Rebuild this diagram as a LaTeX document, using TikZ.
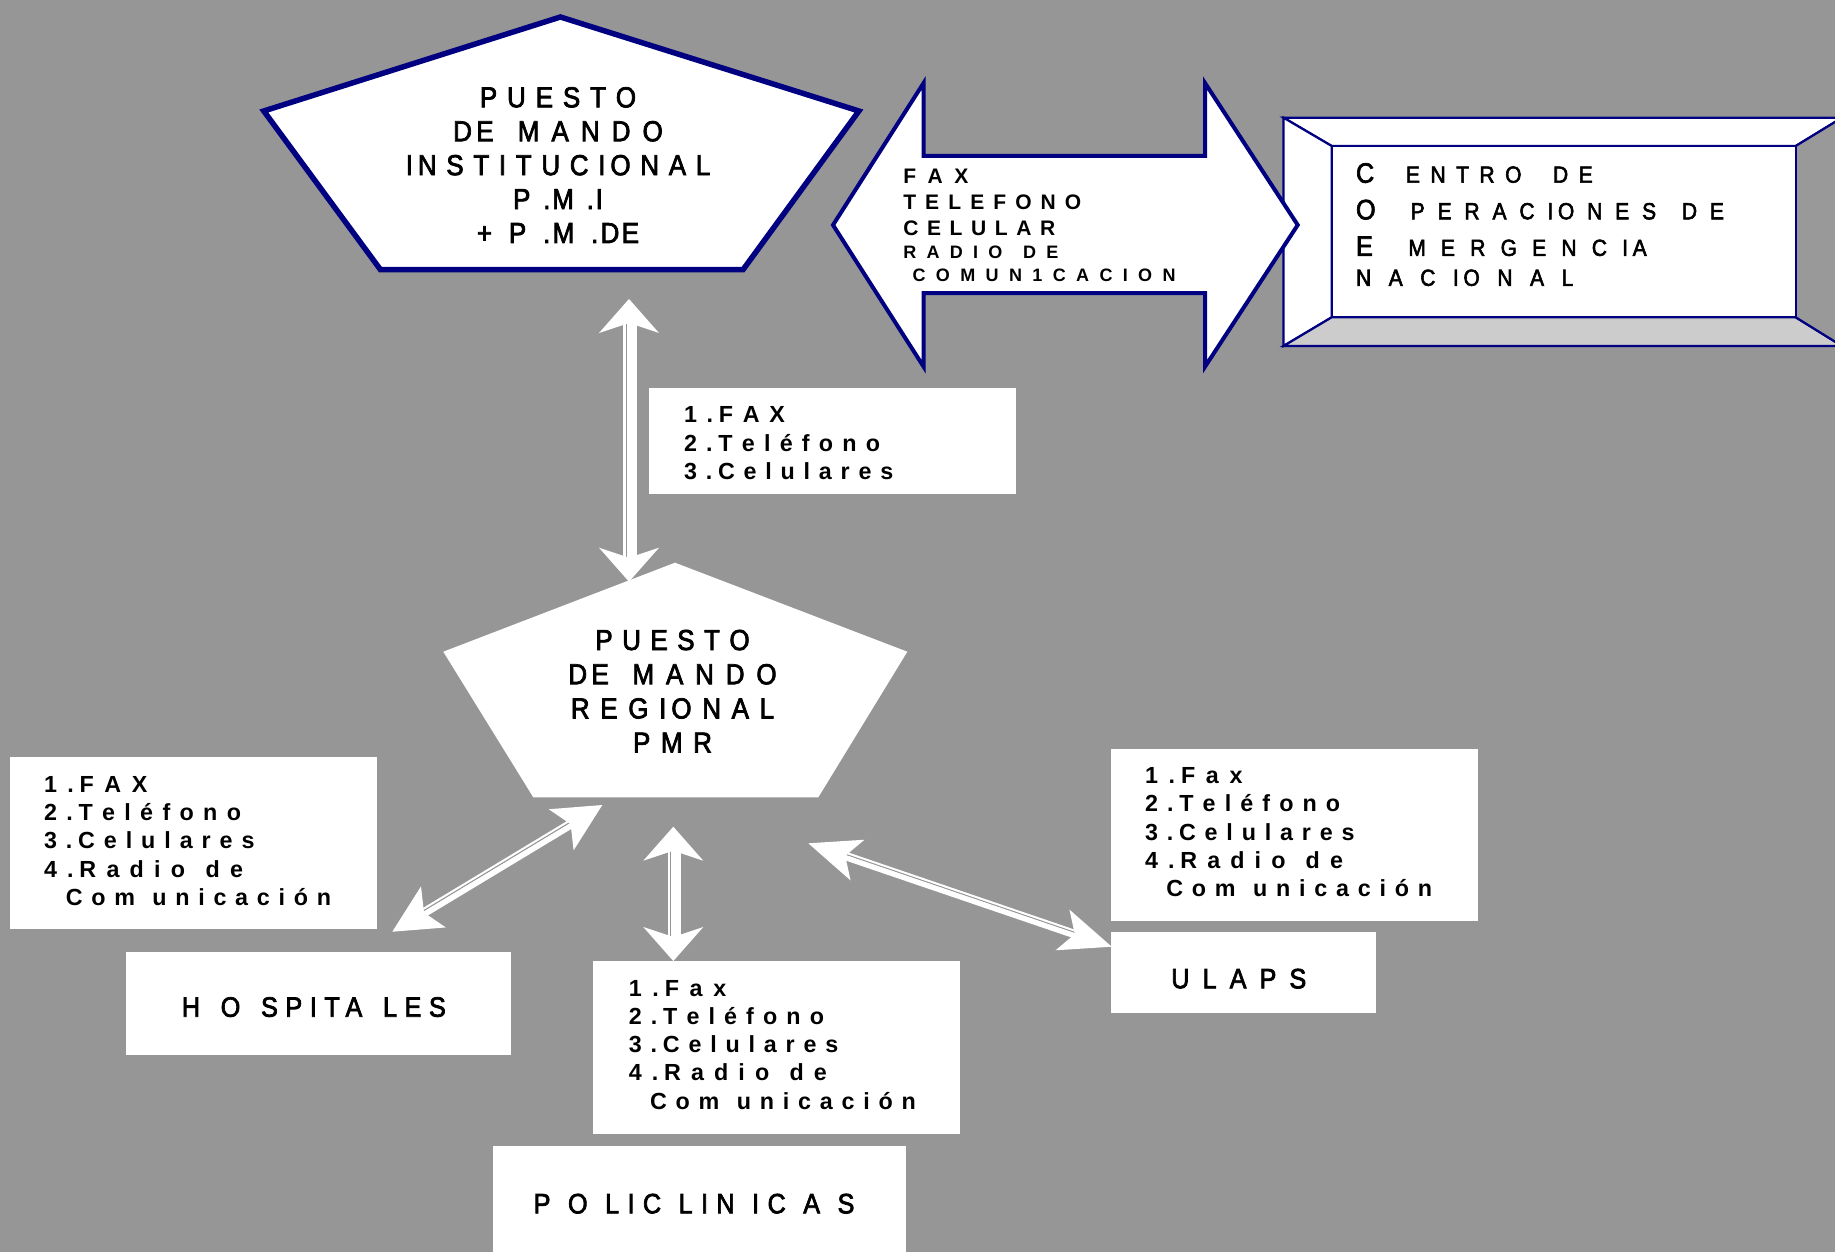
\documentclass[tikz,border=0pt]{standalone}
\usepackage{fontspec}
\setmainfont{Liberation Sans}
\newfontfamily\medfont[FakeBold=2.5,FakeStretch=0.9]{Liberation Sans}
\usetikzlibrary{arrows.meta}
\definecolor{bg}{RGB}{150,150,150}
\definecolor{navy}{RGB}{0,0,128}
\definecolor{bevlight}{RGB}{204,204,204}
\definecolor{bevdark}{RGB}{153,153,153}
\newcommand\trk[3]{\makebox[#1mm][s]{\addfontfeatures{LetterSpace=#2}\spaceskip=0.1em plus 1fil minus 0.1em\relax #3}}
\frenchspacing
\begin{document}
\begin{tikzpicture}[x=0.1mm,y=-0.1mm,
  txt/.style={inner sep=0pt, outer sep=0pt, align=left, text width=50mm, anchor=base west},
  ctr/.style={inner sep=0pt, outer sep=0pt, align=center, text width=40mm, anchor=base},
  wbox/.style={fill=white, draw=none, inner sep=0pt, outer sep=0pt},
  big/.style={font=\medfont\fontsize{7.97}{9.6}\selectfont},
  tipsA/.style={white, line width=0.2mm, arrows={Stealth[length=3.4mm,width=6mm,inset=1mm,line width=0pt]-Stealth[length=3.4mm,width=6mm,inset=1mm,line width=0pt]}},
  tipsB/.style={white, line width=0.2mm, arrows={Stealth[length=4.8mm,width=4.8mm,inset=1.1mm,line width=0pt]-Stealth[length=4.8mm,width=4.8mm,inset=1.1mm,line width=0pt]}},
  tipsC/.style={white, line width=0.2mm, arrows={Stealth[length=5.2mm,width=4.3mm,inset=1.3mm,line width=0pt]-Stealth[length=5.2mm,width=4.3mm,inset=1.3mm,line width=0pt]}},
  shaft/.style={white, line cap=butt}
]
\useasboundingbox (0,0) rectangle (1835,1252);
\fill[bg] (0,0) rectangle (1835,1252);

% ---- Puesto de mando institucional
\filldraw[fill=white, draw=navy, line width=0.55mm, line join=miter]
  (560.4,17) -- (858.9,111) -- (743,269.7) -- (380.5,269.7) -- (263.8,111) -- cycle;
\node[ctr, font=\medfont\fontsize{8.22}{9.65}\selectfont] (pmi) at (558,107.3)
  {\trk{15.62}{17}{P U E S T O}\\\trk{20.96}{15}{DE \ M A N D O}\\\trk{30.45}{17}{IN S T I T U C IO N A L}\\\trk{8.98}{6}{P .M .I}\\\trk{16.21}{8}{+ P .M .DE}};

% ---- COE bevel box
\begin{scope}[draw=navy, line width=0.22mm, line join=miter]
\filldraw[fill=white] (1283.5,117.7) -- (1842,117.7) -- (1795.7,146) -- (1331.7,146) -- cycle;
\filldraw[fill=white] (1283.5,117.7) -- (1331.7,146) -- (1331.7,317.3) -- (1283.5,346) -- cycle;
\filldraw[fill=bevlight] (1283.5,346) -- (1331.7,317.3) -- (1795.7,317.3) -- (1842,346) -- cycle;
\filldraw[fill=bevdark] (1842,117.7) -- (1795.7,146) -- (1795.7,317.3) -- (1842,346) -- cycle;
\end{scope}
\node[draw=navy, fill=white, line width=0.22mm, inner sep=0pt, minimum width=46.4mm, minimum height=17.13mm] (coe) at (1563.7,231.65) {};
\node[txt, font=\medfont\fontsize{6.63}{10.41}\selectfont] (coetext) at (1356,182.7)
  {\makebox[5.0mm][l]{\fontsize{7.97}{10.41}\selectfont C}\trk{18.67}{20}{E N T R O \ \ D E}\\
   \makebox[5.47mm][l]{\fontsize{7.97}{10.41}\selectfont O}\trk{31.33}{20}{P E R A C IO N E S \ D E}\\
   \makebox[5.23mm][l]{\fontsize{7.97}{10.41}\selectfont E}\trk{23.84}{20}{M E R G E N C IA}\\[-1.89pt]
   \trk{21.73}{20}{N A C IO N A L}};

% ---- block double arrow (in front of the COE box edge)
\filldraw[fill=white, draw=navy, line width=0.4mm, line join=miter]
  (833,225) -- (923.6,83) -- (923.6,156) -- (1205,156) -- (1205,83) -- (1297.7,225)
  -- (1205,366.7) -- (1205,293) -- (923.6,293) -- (923.6,366.7) -- cycle;
\node[txt, font=\bfseries\fontsize{5.98}{7.45}\selectfont] (medios) at (903.3,183.3)
  {\trk{6.5}{25}{F A X}\\
   \trk{17.8}{25}{T E L E F O N O}\\
   \trk{15.2}{25}{C E L U L A R}\\[-1.02pt]
   {\fontsize{5.12}{7.45}\selectfont\trk{15.5}{40}{R A D I O \ D E}}\\[-0.79pt]
   \hspace*{0.93mm}{\fontsize{5.12}{7.45}\selectfont\trk{26.3}{40}{C O M U N 1 C A C I O N}}};

% ---- list boxes
\node[wbox, minimum width=36.67mm, minimum height=10.66mm] (bx1) at (832.65,441) {};
\node[txt, font=\bfseries\fontsize{6.63}{8.15}\selectfont] (bx1t) at (684,422.7)
  {\trk{10.1}{25}{1 .F A X}\\\trk{19.6}{25}{2 .T e l é f o n o}\\\trk{20.93}{25}{3 .C e l u l a r e s}};

\node[wbox, minimum width=36.74mm, minimum height=17.2mm] (bx2) at (193.3,843.3) {};
\node[txt, font=\bfseries\fontsize{6.63}{8.0}\selectfont] (bx2t) at (44,792.7)
  {\trk{10.33}{25}{1 .F A X}\\\trk{19.7}{25}{2 .T e l é f o n o}\\\trk{21.05}{25}{3 .C e l u l a r e s}\\\trk{19.9}{25}{4 .R a d i o \ d e}\\\hspace*{2.18mm}\trk{26.52}{25}{C o m \ u n i c a c i ó n}};

\node[wbox, minimum width=36.74mm, minimum height=17.3mm] (bx3) at (776.3,1047.5) {};
\node[txt, font=\bfseries\fontsize{6.63}{8.04}\selectfont] (bx3t) at (628.8,996)
  {\trk{9.76}{25}{1 .F a x}\\\trk{19.52}{25}{2 .T e l é f o n o}\\\trk{20.95}{25}{3 .C e l u l a r e s}\\\trk{19.8}{25}{4 .R a d i o \ d e}\\\hspace*{2.12mm}\trk{26.58}{25}{C o m \ u n i c a c i ó n}};

\node[wbox, minimum width=36.7mm, minimum height=17.2mm] (bx4) at (1294.5,835) {};
\node[txt, font=\bfseries\fontsize{6.63}{8.07}\selectfont] (bx4t) at (1145,783.3)
  {\trk{9.76}{25}{1 .F a x}\\\trk{19.52}{25}{2 .T e l é f o n o}\\\trk{20.95}{25}{3 .C e l u l a r e s}\\\trk{19.8}{25}{4 .R a d i o \ d e}\\\hspace*{2.13mm}\trk{26.58}{25}{C o m \ u n i c a c i ó n}};

% ---- destination boxes
\node[wbox, minimum width=38.46mm, minimum height=10.33mm] (hosp) at (318.6,1003.35) {};
\node[txt, big] (hospt) at (181.8,1016.7) {\trk{26.4}{27}{H O SPITA LES}};
\node[wbox, minimum width=41.33mm, minimum height=11.43mm] (poli) at (699.35,1202.85) {};
\node[txt, big] (polit) at (533.7,1213.3) {\trk{32.07}{30}{P O LIC LIN IC A S}};
\node[wbox, minimum width=26.52mm, minimum height=8.04mm] (ulaps) at (1243.6,972.5) {};
\node[txt, big] (ulapst) at (1171.3,988.3) {\trk{13.5}{17}{U L A P S}};

% ---- Puesto de mando regional
\fill[white] (675,562.7) -- (907.3,651.7) -- (818.3,797.3) -- (533.3,797.3) -- (443.3,651.7) -- cycle;
\node[ctr, font=\medfont\fontsize{8.22}{9.73}\selectfont] (pmr) at (672.5,650)
  {\trk{15.43}{17}{P U E S T O}\\\trk{20.83}{15}{DE \ M A N D O}\\\trk{20.33}{17}{R E G IO N A L}\\\trk{7.9}{17}{P M R}};

% ---- white double arrows
\coordinate (t1a) at (629,299);
\coordinate (t1b) at (629,581.7);
\coordinate (t2a) at (673.3,826.7);
\coordinate (t2b) at (673.3,961);
\coordinate (t3a) at (602.3,805);
\coordinate (t3b) at (392.3,931.7);
\coordinate (t4a) at (808.3,843.3);
\coordinate (t4b) at (1111.7,946.7);

\draw[tipsA] (t1a) -- (t1b);
\draw[shaft, line width=1mm, shorten <=2mm, shorten >=2mm, transform canvas={shift={(3,0)}}] (t1a) -- (t1b);
\draw[shaft, line width=0.24mm, shorten <=2.2mm, shorten >=2.2mm, transform canvas={shift={(-4.5,0)}}] (t1a) -- (t1b);

\draw[tipsA] (t2a) -- (t2b);
\draw[shaft, line width=1mm, shorten <=2mm, shorten >=2mm, transform canvas={shift={(3,0)}}] (t2a) -- (t2b);
\draw[shaft, line width=0.24mm, shorten <=2.2mm, shorten >=2.2mm, transform canvas={shift={(-4.5,0)}}] (t2a) -- (t2b);

\draw[tipsB] (t3a) -- (t3b);
\draw[shaft, line width=0.55mm, shorten <=3.3mm, shorten >=3.3mm, transform canvas={shift={(0.9,1.5)}}] (t3a) -- (t3b);
\draw[shaft, line width=0.2mm, shorten <=3.5mm, shorten >=3.5mm, transform canvas={shift={(-1.8,-3.0)}}] (t3a) -- (t3b);

\draw[tipsC] (t4a) -- (t4b);
\draw[shaft, line width=0.5mm, shorten <=3.5mm, shorten >=3.5mm, transform canvas={shift={(-0.56,1.66)}}] (t4a) -- (t4b);
\draw[shaft, line width=0.2mm, shorten <=3.7mm, shorten >=3.7mm, transform canvas={shift={(1.05,-3.08)}}] (t4a) -- (t4b);
\end{tikzpicture}
\end{document}
